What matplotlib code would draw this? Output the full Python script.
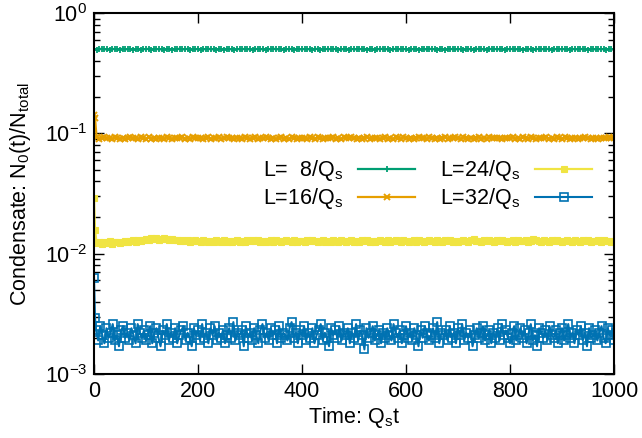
import numpy as np
import matplotlib
matplotlib.use("Agg")
import matplotlib.pyplot as plt
from matplotlib.ticker import LogLocator, NullFormatter

plt.rcParams['font.family'] = ['Liberation Sans', 'DejaVu Sans']
plt.rcParams['mathtext.fontset'] = 'custom'
plt.rcParams['mathtext.rm'] = 'Liberation Sans'
plt.rcParams['mathtext.it'] = 'Liberation Sans:italic'
plt.rcParams['mathtext.bf'] = 'Liberation Sans:bold'

FS = 15.5

labels = [r'L=  8/Q$_\mathregular{s}$', r'L=16/Q$_\mathregular{s}$',
          r'L=24/Q$_\mathregular{s}$', r'L=32/Q$_\mathregular{s}$']
colors = ['#009e73', '#e69f00', '#f0e442', '#0072b2']

# L=8 : N0/N (units of 1e-2), every 5 time units from t=0
green = [50.3, 49.6, 50.1, 50.5, 49.8, 50.0, 49.5, 50.4, 49.9, 50.2, 49.7, 50.6, 49.8, 50.1, 50.3, 49.6, 50.0, 50.4, 49.7, 50.2,
         49.9, 50.5, 49.6, 50.1, 50.3, 49.8, 50.0, 49.5, 50.4, 50.1, 49.7, 50.2, 49.9, 50.6, 49.8, 50.0, 50.3, 49.6, 50.1, 49.9,
         50.4, 49.7, 50.2, 49.9, 50.5, 49.8, 50.1, 49.6, 50.3, 50.0, 49.7, 50.4, 49.9, 50.1, 49.5, 50.2, 50.0, 49.8, 50.5, 49.9,
         50.1, 49.6, 50.3, 50.0, 49.8, 50.4, 49.7, 50.2, 49.9, 50.6, 49.8, 50.0, 50.3, 49.7, 50.1, 49.9, 50.4, 49.6, 50.2, 50.0,
         49.8, 50.3, 49.9, 50.1, 49.6, 50.5, 50.0, 49.7, 50.2, 49.9, 50.4, 49.8, 50.1, 50.3, 49.7, 50.0, 49.9, 50.5, 49.6, 50.2,
         50.0, 49.8, 50.4, 49.9, 50.1, 49.7, 50.3, 50.0, 49.6, 50.2, 49.9, 50.5, 49.8, 50.1, 49.7, 50.4, 50.0, 49.8, 50.2, 49.9,
         50.3, 49.7, 50.1, 49.9, 50.4, 49.6, 50.2, 50.0, 49.8, 50.5, 49.9, 50.1, 49.7, 50.3, 50.0, 49.6, 50.2, 49.9, 50.4, 49.8,
         50.1, 50.0, 49.7, 50.3, 49.9, 50.2, 49.6, 50.4, 50.0, 49.8, 50.1, 49.7, 50.5, 49.9, 50.2, 50.0, 49.8, 50.3, 49.6, 50.1,
         49.9, 50.4, 49.8, 50.0, 50.2, 49.7, 50.3, 49.9, 50.1, 49.6, 50.4, 50.0, 49.8, 50.2, 49.9, 50.5, 49.7, 50.1, 50.0, 49.8,
         50.3, 49.9, 50.1, 49.7, 50.2, 50.0, 49.8, 50.4, 49.9, 50.1, 49.6, 50.3, 50.0, 49.8, 50.2, 49.9, 50.1, 49.7, 50.3, 50.0,
         49.9]

# L=16 (units of 1e-3): t=0, t=2, then every 5
orange = [142, 134,
          92.4, 89.8, 91.5, 93.0, 90.6, 91.9, 89.5, 92.7, 91.1, 90.3, 92.2, 89.9, 91.7, 93.1, 90.8, 91.4, 89.6, 92.5, 91.0, 90.2,
          92.8, 90.5, 91.6, 89.7, 92.3, 91.2, 90.0, 92.9, 91.4, 89.9, 92.0, 90.7, 91.8, 93.2, 90.4, 91.3, 89.6, 92.6, 91.0, 90.8,
          92.1, 89.8, 91.5, 92.7, 90.3, 91.9, 90.6, 92.4, 89.7, 91.2, 93.0, 90.9, 91.6, 89.9, 92.2, 91.1, 90.4, 92.8, 91.3, 90.0,
          91.8, 92.5, 89.6, 91.4, 90.7, 92.9, 91.0, 90.2, 92.3, 89.8, 91.7, 93.1, 90.5, 91.2, 89.9, 92.6, 91.5, 90.1, 92.0, 90.8,
          91.3, 89.7, 92.4, 91.9, 90.3, 92.7, 91.1, 89.8, 92.2, 90.6, 91.6, 93.0, 90.0, 91.4, 89.9, 92.5, 91.2, 90.7, 92.8, 91.0,
          90.4, 92.1, 89.6, 91.7, 92.9, 90.2, 91.5, 90.9, 92.3, 89.8, 91.3, 92.6, 90.5, 91.8, 89.7, 92.4, 91.0, 90.3, 92.7, 91.6,
          90.1, 92.0, 89.9, 91.4, 93.1, 90.6, 91.2, 89.6, 92.5, 91.7, 90.4, 92.2, 89.8, 91.5, 92.8, 90.0, 91.1, 90.7, 92.4, 91.3,
          89.7, 92.6, 91.0, 90.5, 92.1, 89.9, 91.6, 93.0, 90.2, 91.4, 89.8, 92.7, 91.2, 90.6, 92.3, 91.5, 89.6, 92.0, 90.9, 91.8,
          92.9, 90.3, 91.3, 89.9, 92.5, 91.1, 90.4, 92.8, 91.6, 89.7, 92.2, 90.8, 91.4, 93.0, 90.1, 91.7, 89.8, 92.4, 91.0, 90.5,
          92.6, 91.2, 89.9, 91.8, 92.1, 90.3, 91.5, 90.7, 92.7, 91.0, 89.8, 92.3, 91.4, 90.2, 92.0, 91.6, 90.6, 92.5, 91.1, 90.8]

# L=24 (units of 1e-4): t=0, t=2, then every 5
yellow = [290, 158,
          122, 126, 121, 125, 123, 127, 120, 124, 126, 122, 125, 128, 124, 127, 129, 126, 130, 128, 131, 133,
          130, 134, 132, 135, 131, 133, 136, 132, 130, 133, 129, 131, 128, 130, 127, 129, 126, 128, 130, 127,
          125, 129, 127, 124, 128, 126, 130, 127, 125, 129, 126, 128, 124, 127, 130, 126, 128, 125, 129, 127,
          131, 127, 129, 126, 128, 124, 127, 130, 126, 129, 127, 125, 128, 131, 127, 126, 129, 124, 128, 127,
          126, 129, 127, 131, 128, 125, 127, 130, 126, 128, 124, 129, 127, 126, 130, 128, 125, 127, 129, 126,
          128, 125, 129, 127, 131, 126, 128, 124, 127, 130, 128, 126, 129, 125, 127, 131, 128, 126, 129, 127,
          125, 128, 130, 126, 129, 127, 124, 128, 131, 127, 126, 129, 128, 125, 130, 127, 129, 126, 128, 124,
          127, 130, 128, 126, 129, 132, 127, 128, 125, 129, 127, 131, 128, 126, 130, 127, 129, 128, 125, 127,
          129, 126, 131, 128, 127, 130, 126, 128, 133, 129, 127, 126, 130, 128, 125, 129, 127, 131, 128, 126,
          128, 130, 127, 125, 129, 128, 126, 130, 127, 129, 124, 128, 127, 130, 126, 129, 127, 128, 126, 128]

# L=32 (units of 1e-4): t=0, t=2, then every 4
blue = [63, 29,
        23, 19, 25, 21, 18, 24, 20, 22, 26, 19, 21, 17, 23, 25, 20, 22, 19, 24, 21, 18,
        26, 22, 20, 23, 19, 21, 25, 18, 22, 24, 20, 17, 23, 21, 26, 19, 22, 20, 24, 18,
        21, 23, 25, 19, 22, 20, 17, 24, 21, 23, 19, 26, 20, 22, 18, 24, 21, 25, 19, 22,
        20, 23, 18, 21, 24, 20, 27, 19, 22, 21, 23, 17, 25, 20, 22, 19, 24, 21, 18, 23,
        26, 20, 22, 19, 24, 21, 23, 18, 25, 20, 22, 21, 19, 24, 27, 20, 22, 18, 23, 21,
        25, 19, 22, 20, 24, 18, 21, 23, 26, 19, 22, 20, 17, 24, 21, 23, 20, 25, 19, 22,
        21, 24, 18, 22, 20, 26, 19, 23, 21, 16, 24, 20, 22, 25, 19, 21, 23, 18, 22, 20,
        24, 21, 19, 26, 22, 20, 23, 18, 21, 25, 20, 22, 19, 24, 21, 17, 23, 20, 25, 22,
        19, 21, 24, 20, 27, 18, 22, 21, 23, 19, 25, 20, 22, 18, 24, 21, 26, 19, 22, 20,
        23, 17, 21, 24, 20, 22, 25, 19, 21, 23, 18, 22, 20, 24, 19, 26, 21, 23, 20, 18,
        22, 25, 19, 21, 24, 20, 23, 18, 22, 26, 19, 21, 17, 24, 22, 20, 23, 19, 25, 21,
        20, 23, 18, 22, 24, 19, 21, 26, 20, 22, 18, 23, 21, 25, 19, 22, 17, 24, 20, 21,
        23, 19, 22, 25, 20, 18, 24, 21, 23, 19, 22, 26, 20, 21, 18, 23, 20, 24, 19, 22]

t_green = 5 * np.arange(len(green))
t_orange = np.r_[0, 2, 5 * np.arange(1, len(orange) - 1)]
t_yellow = np.r_[0, 2, 5 * np.arange(1, len(yellow) - 1)]
t_blue = np.r_[0, 2, 4 * np.arange(1, len(blue) - 1)]

xticks = [0, 200, 400, 600, 800, 1000]
yticks = [1e-3, 1e-2, 1e-1, 1e0]
ytick_labels = [r'$\mathregular{10^{-3}}$', r'$\mathregular{10^{-2}}$',
                r'$\mathregular{10^{-1}}$', r'$\mathregular{10^{0}}$']

fig = plt.figure(figsize=(6.42, 4.38), dpi=100)
ax = fig.add_axes([94/642, 1 - 374/438, 520/642, 361/438])

ax.plot(t_green, np.array(green) * 1e-2, color=colors[0], lw=1.6,
        marker='+', ms=5, mew=1.3, label=labels[0])
ax.plot(t_orange, np.array(orange) * 1e-3, color=colors[1], lw=1.6,
        marker='x', ms=4, mew=1.4, label=labels[1])
ax.plot(t_yellow, np.array(yellow) * 1e-4, color=colors[2], lw=1.6,
        marker='s', ms=4, mew=0.8, label=labels[2])
ax.plot(t_blue, np.array(blue) * 1e-4, color=colors[3], lw=1.5,
        marker='s', ms=5.2, mew=1.2, mfc='none', label=labels[3])

ax.set_yscale('log')
ax.set_xlim(0, 1000)
ax.set_ylim(1e-3, 1)
ax.set_xticks(xticks)
ax.set_yticks(yticks)
ax.set_yticklabels(ytick_labels)
ax.yaxis.set_minor_locator(LogLocator(base=10, subs=np.arange(2, 10)))
ax.yaxis.set_minor_formatter(NullFormatter())

for s in ax.spines.values():
    s.set_linewidth(1.5)
ax.tick_params(which='both', direction='in', top=True, right=True,
               labelsize=FS, width=1.0)
ax.tick_params(which='major', length=7, pad=5)
ax.tick_params(which='minor', length=4)

ax.set_xlabel(r'Time: Q$_\mathregular{s}$t', fontsize=FS, labelpad=2)
ax.set_ylabel(r'Condensate: N$_\mathregular{0}$(t)/N$_\mathregular{total}$',
              fontsize=FS)
ax.yaxis.set_label_coords(-0.118, 0.5)

handles, lbls = ax.get_legend_handles_labels()
ax.legend(handles, lbls, ncol=2, loc='center',
          bbox_to_anchor=(0.666, 0.578), bbox_transform=fig.transFigure,
          frameon=False, markerfirst=False, fontsize=FS,
          handlelength=2.65, handletextpad=0.7, columnspacing=1.15,
          labelspacing=0.15)

fig.savefig('out.png', dpi=100)
